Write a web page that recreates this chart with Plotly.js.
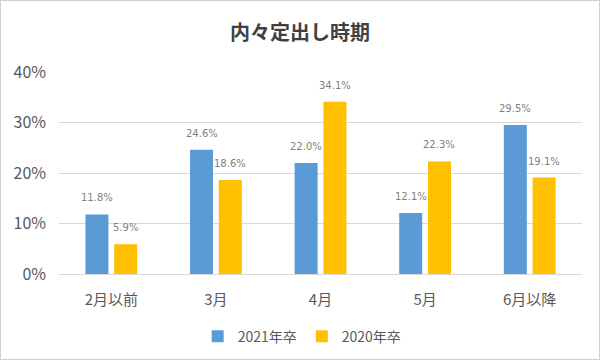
<!DOCTYPE html>
<html>
<head>
<meta charset="utf-8">
<script src="https://cdn.plot.ly/plotly-3.0.1.min.js"></script>
<style>
html,body{margin:0;padding:0;background:#fff;}
#chart{width:598px;height:358px;border:1px solid #d0d0d0;}
</style>
</head>
<body>
<div id="chart"></div>
<script>
const categories = ["2月以前", "3月", "4月", "5月", "6月以降"];
const series2021 = [11.8, 24.6, 22.0, 12.1, 29.5];
const series2020 = [5.9, 18.6, 34.1, 22.3, 19.1];
const seriesNames = ["2021年卒", "2020年卒"];
const yTicks = [0, 10, 20, 30, 40];
const yTickLabels = ["0%", "10%", "20%", "30%", "40%"];

const font = "'Noto Sans CJK JP', 'Noto Sans', sans-serif";
function mk(name, vals, color) {
  return {
    type: "bar", name: name, x: categories, y: vals,
    marker: {color: color},
    hoverinfo: "none"
  };
}
const data = [mk(seriesNames[0], series2021, "#5B9BD5"), mk(seriesNames[1], series2020, "#FFC000")];

const annotations = [];
[[series2021, -14.3], [series2020, 14.3]].forEach(([vals, dx]) => {
  vals.forEach((v, i) => {
    annotations.push({
      x: categories[i], y: v, xref: "x", yref: "y",
      text: v.toFixed(1) + "%", showarrow: false,
      xshift: dx, yshift: 9, yanchor: "bottom", xanchor: "center",
      font: {size: 10, color: "#7f7f7f", family: "'DejaVu Sans', sans-serif"}
    });
  });
});

const layout = {
  width: 598, height: 358,
  margin: {l: 58, r: 17, t: 71, b: 85, autoexpand: false},
  paper_bgcolor: "#fff", plot_bgcolor: "#fff",
  title: {text: "<b>内々定出し時期</b>", x: 0.5, xanchor: "center", y: 0.912, yanchor: "middle",
          font: {family: font, size: 20, color: "#404040"}},
  barmode: "group", bargap: 0.45, bargroupgap: 0.2,
  xaxis: {tickfont: {family: font, size: 15, color: "#595959"}, showline: true, linecolor: "#d9d9d9",
          ticks: "", ticklabelstandoff: 12, tickangle: 0, automargin: false, fixedrange: true},
  yaxis: {range: [0, 40], tickvals: yTicks, ticktext: yTickLabels, showgrid: true, gridcolor: "#d9d9d9",
          zeroline: false, tickfont: {family: font, size: 16, color: "#595959"}, ticks: "",
          ticklabelstandoff: 12, automargin: false, fixedrange: true},
  annotations: annotations,
  showlegend: true,
  legend: {orientation: "h", x: 0.465, xanchor: "center", y: -0.31, yanchor: "middle",
           font: {family: font, size: 14, color: "#595959"}, itemwidth: 30},
};
Plotly.newPlot("chart", data, layout, {displayModeBar: false, staticPlot: true});
</script>
</body>
</html>
